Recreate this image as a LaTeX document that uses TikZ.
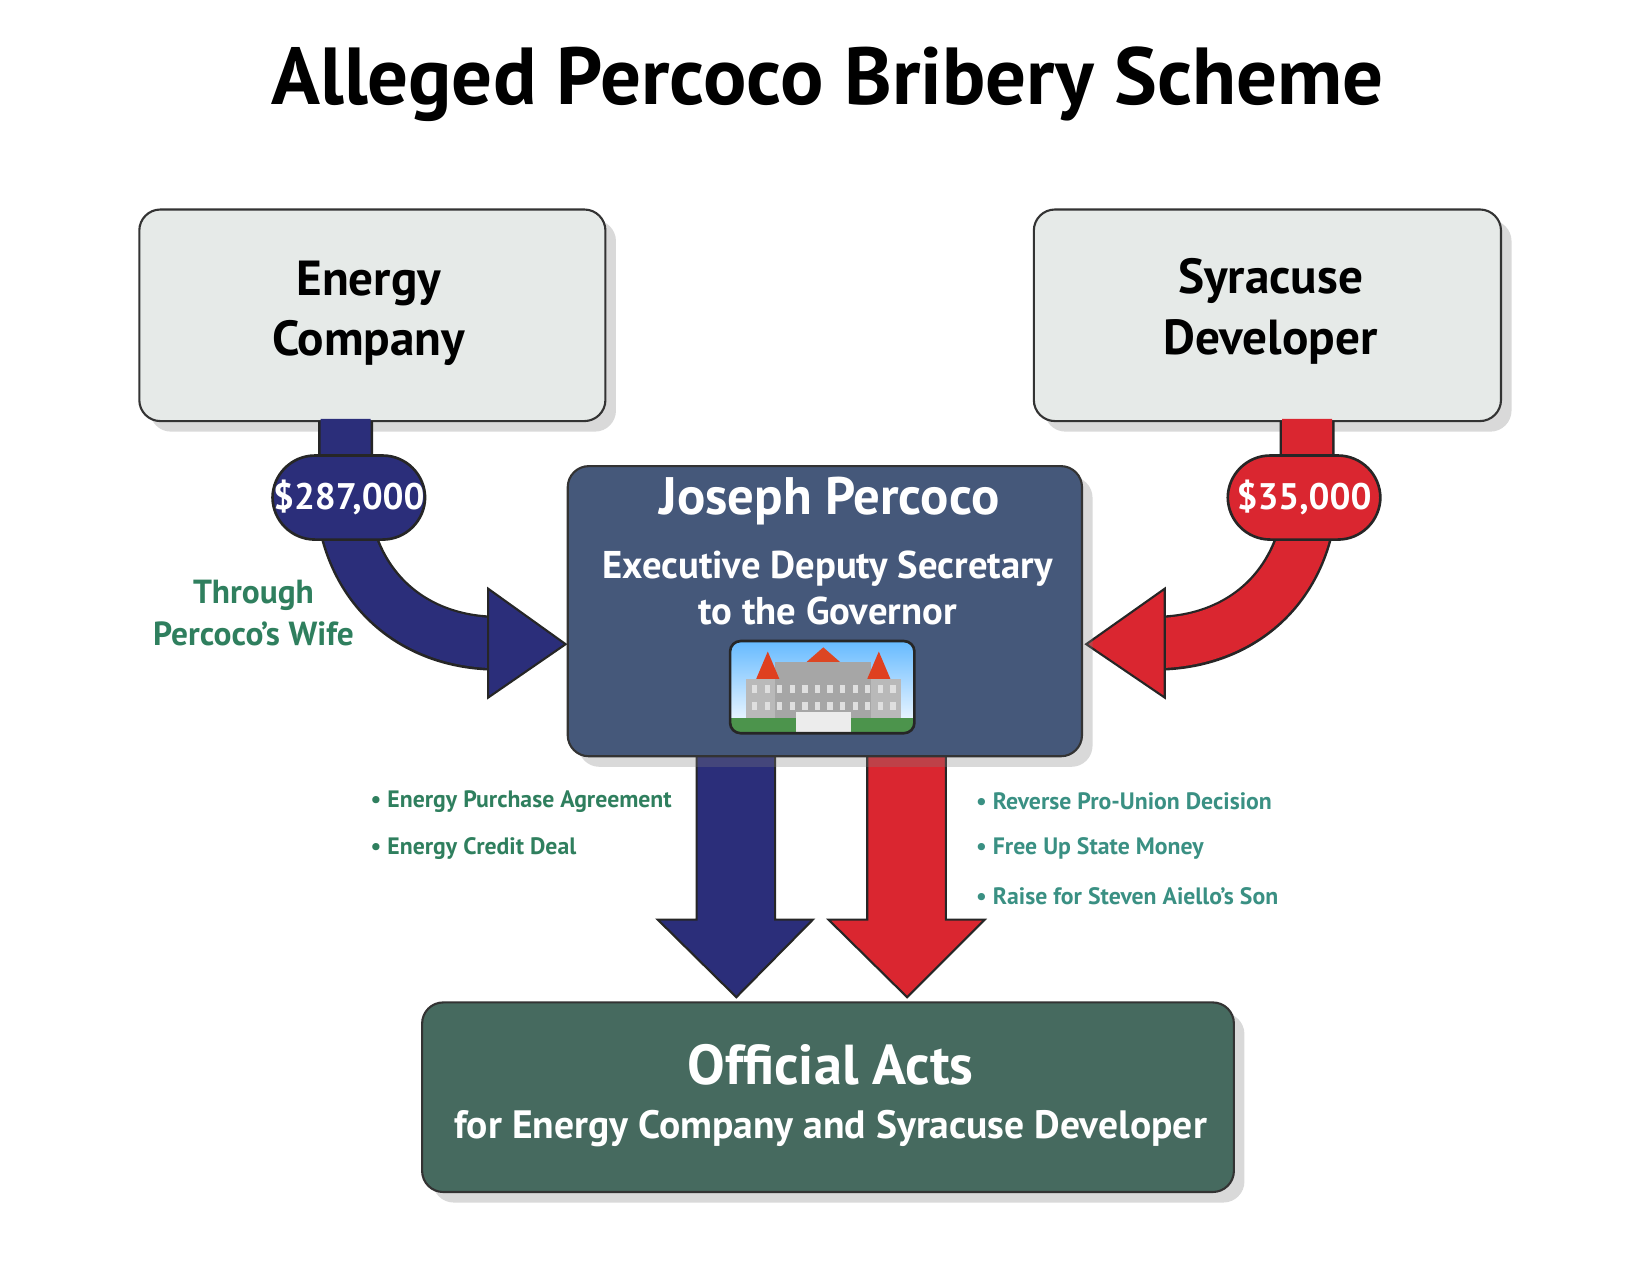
\documentclass[tikz,border=0pt]{standalone}
\usepackage{fontspec}
\setmainfont{PT Sans}
\usetikzlibrary{shadows,positioning}
\definecolor{boxgray}{HTML}{E6EAE8}
\definecolor{percblue}{HTML}{45587A}
\definecolor{actgreen}{HTML}{466A5F}
\definecolor{arrblue}{HTML}{2B2E7A}
\definecolor{arrred}{HTML}{DA2630}
\definecolor{labgreen}{HTML}{2F7F5E}
\definecolor{labteal}{HTML}{3A9083}
\tikzset{
  main box/.style={draw=black!80,line width=1.2pt,rounded corners=12pt,drop shadow={shadow xshift=6pt,shadow yshift=-6pt,opacity=.3}},
  badge/.style={rectangle,rounded corners=0.85cm,draw=black!85,line width=1.5pt,minimum width=3.05cm,minimum height=1.68cm,inner sep=0pt,text=white,font=\bfseries\fontsize{21}{23}\selectfont},
  bullet text/.style={anchor=west,text=labteal,font=\bfseries\fontsize{13.5}{16}\selectfont},
}
\begin{document}
\begin{tikzpicture}[x=0.02094cm,y=-0.02094cm]
\useasboundingbox (0,0) rectangle (1560,1205);
\node (title) at (790,80) {\bfseries\fontsize{46}{50}\selectfont Alleged Percoco Bribery Scheme};
% boxes
\draw[main box,fill=boxgray] (133,200) rectangle (578,402);
\node[align=center,font=\bfseries\fontsize{28}{34.5}\selectfont] (energy) at (352,299) {Energy\\Company};
\draw[main box,fill=boxgray] (987,200) rectangle (1433,402);
\node[align=center,font=\bfseries\fontsize{28}{34.5}\selectfont] (syracuse) at (1213,297) {Syracuse\\Developer};
% curved arrows
\draw[black!85,line width=1.1cm] (330,402) -- (330,500) .. controls (345,570) and (400,612) .. (470,614);
\draw[arrblue,line width=1.0cm] (330,400) -- (330,500) .. controls (345,570) and (400,612) .. (472,614);
\draw[fill=arrblue,draw=black!85,line width=1.2pt] (466,562) -- (540,615) -- (466,666) -- cycle;
\draw[black!85,line width=1.1cm] (1248,402) -- (1248,500) .. controls (1233,570) and (1178,612) .. (1108,614);
\draw[arrred,line width=1.0cm] (1248,400) -- (1248,500) .. controls (1233,570) and (1178,612) .. (1106,614);
\draw[fill=arrred,draw=black!85,line width=1.2pt] (1112,562) -- (1037,615) -- (1112,666) -- cycle;
\node[badge,fill=arrblue] (pay1) at (333,475) {\$287,000};
\node[badge,fill=arrred] (pay2) at (1245,475) {\$35,000};
\node[align=center,text=labgreen,font=\bfseries\fontsize{19}{24}\selectfont] (wife) at (242,585) {Through\\Percoco’s Wife};
% down arrows
\draw[fill=arrblue,draw=black!85,line width=1.2pt] (665,715) -- (740,715) -- (740,878) -- (776,878) -- (703,952) -- (628,878) -- (665,878) -- cycle;
\draw[fill=arrred,draw=black!85,line width=1.2pt] (828,715) -- (903,715) -- (903,878) -- (940,878) -- (866,952) -- (791,878) -- (828,878) -- cycle;
% Percoco box
\draw[main box,fill=percblue] (542,445) rectangle (1033,722);
\node[text=white,font=\bfseries\fontsize{30}{33}\selectfont] (name) at (792,478) {Joseph Percoco};
\node[text=white,align=center,font=\bfseries\fontsize{22}{26}\selectfont] (role) at (790,561) {Executive Deputy Secretary\\to the Governor};
% capitol picture
\begin{scope}
\clip[rounded corners=6pt] (697,612) rectangle (873,700);
\shade[top color=blue!45!cyan!60,bottom color=white] (697,612) rectangle (873,700);
\fill[gray!55] (712,648) rectangle (860,690);
\fill[gray!70] (740,632) rectangle (832,690);
\fill[red!50!brown] (722,648) -- (733,622) -- (744,648) -- cycle;
\fill[red!50!brown] (828,648) -- (839,622) -- (850,648) -- cycle;
\fill[red!45!brown] (770,632) -- (786,618) -- (802,632) -- cycle;
\foreach \i in {0,...,11} \fill[gray!25] (718+\i*12,654) rectangle ++(5,8);
\foreach \i in {0,...,11} \fill[gray!25] (718+\i*12,670) rectangle ++(5,8);
\fill[green!40!black!70] (697,685) rectangle (873,700);
\fill[white!85!gray] (760,680) rectangle (812,700);
\end{scope}
\draw[black!85,line width=1.5pt,rounded corners=6pt] (697,612) rectangle (873,700);
% bullets
\node[bullet text,text=labgreen] (b1) at (348,765) {• Energy Purchase Agreement};
\node[bullet text,text=labgreen] (b2) at (348,810) {• Energy Credit Deal};
\node[bullet text] (b3) at (926,765) {• Reverse Pro-Union Decision};
\node[bullet text] (b4) at (926,810) {• Free Up State Money};
\node[bullet text] (b5) at (926,856) {• Raise for Steven Aiello's Son};
% official acts
\draw[main box,fill=actgreen] (403,957) rectangle (1178,1138);
\node[text=white,font=\bfseries\fontsize{32}{35}\selectfont] (acts) at (793,1017) {Official Acts};
\node[text=white,font=\bfseries\fontsize{22.5}{26}\selectfont] (actsfor) at (793,1077) {for Energy Company and Syracuse Developer};
\end{tikzpicture}
\end{document}
